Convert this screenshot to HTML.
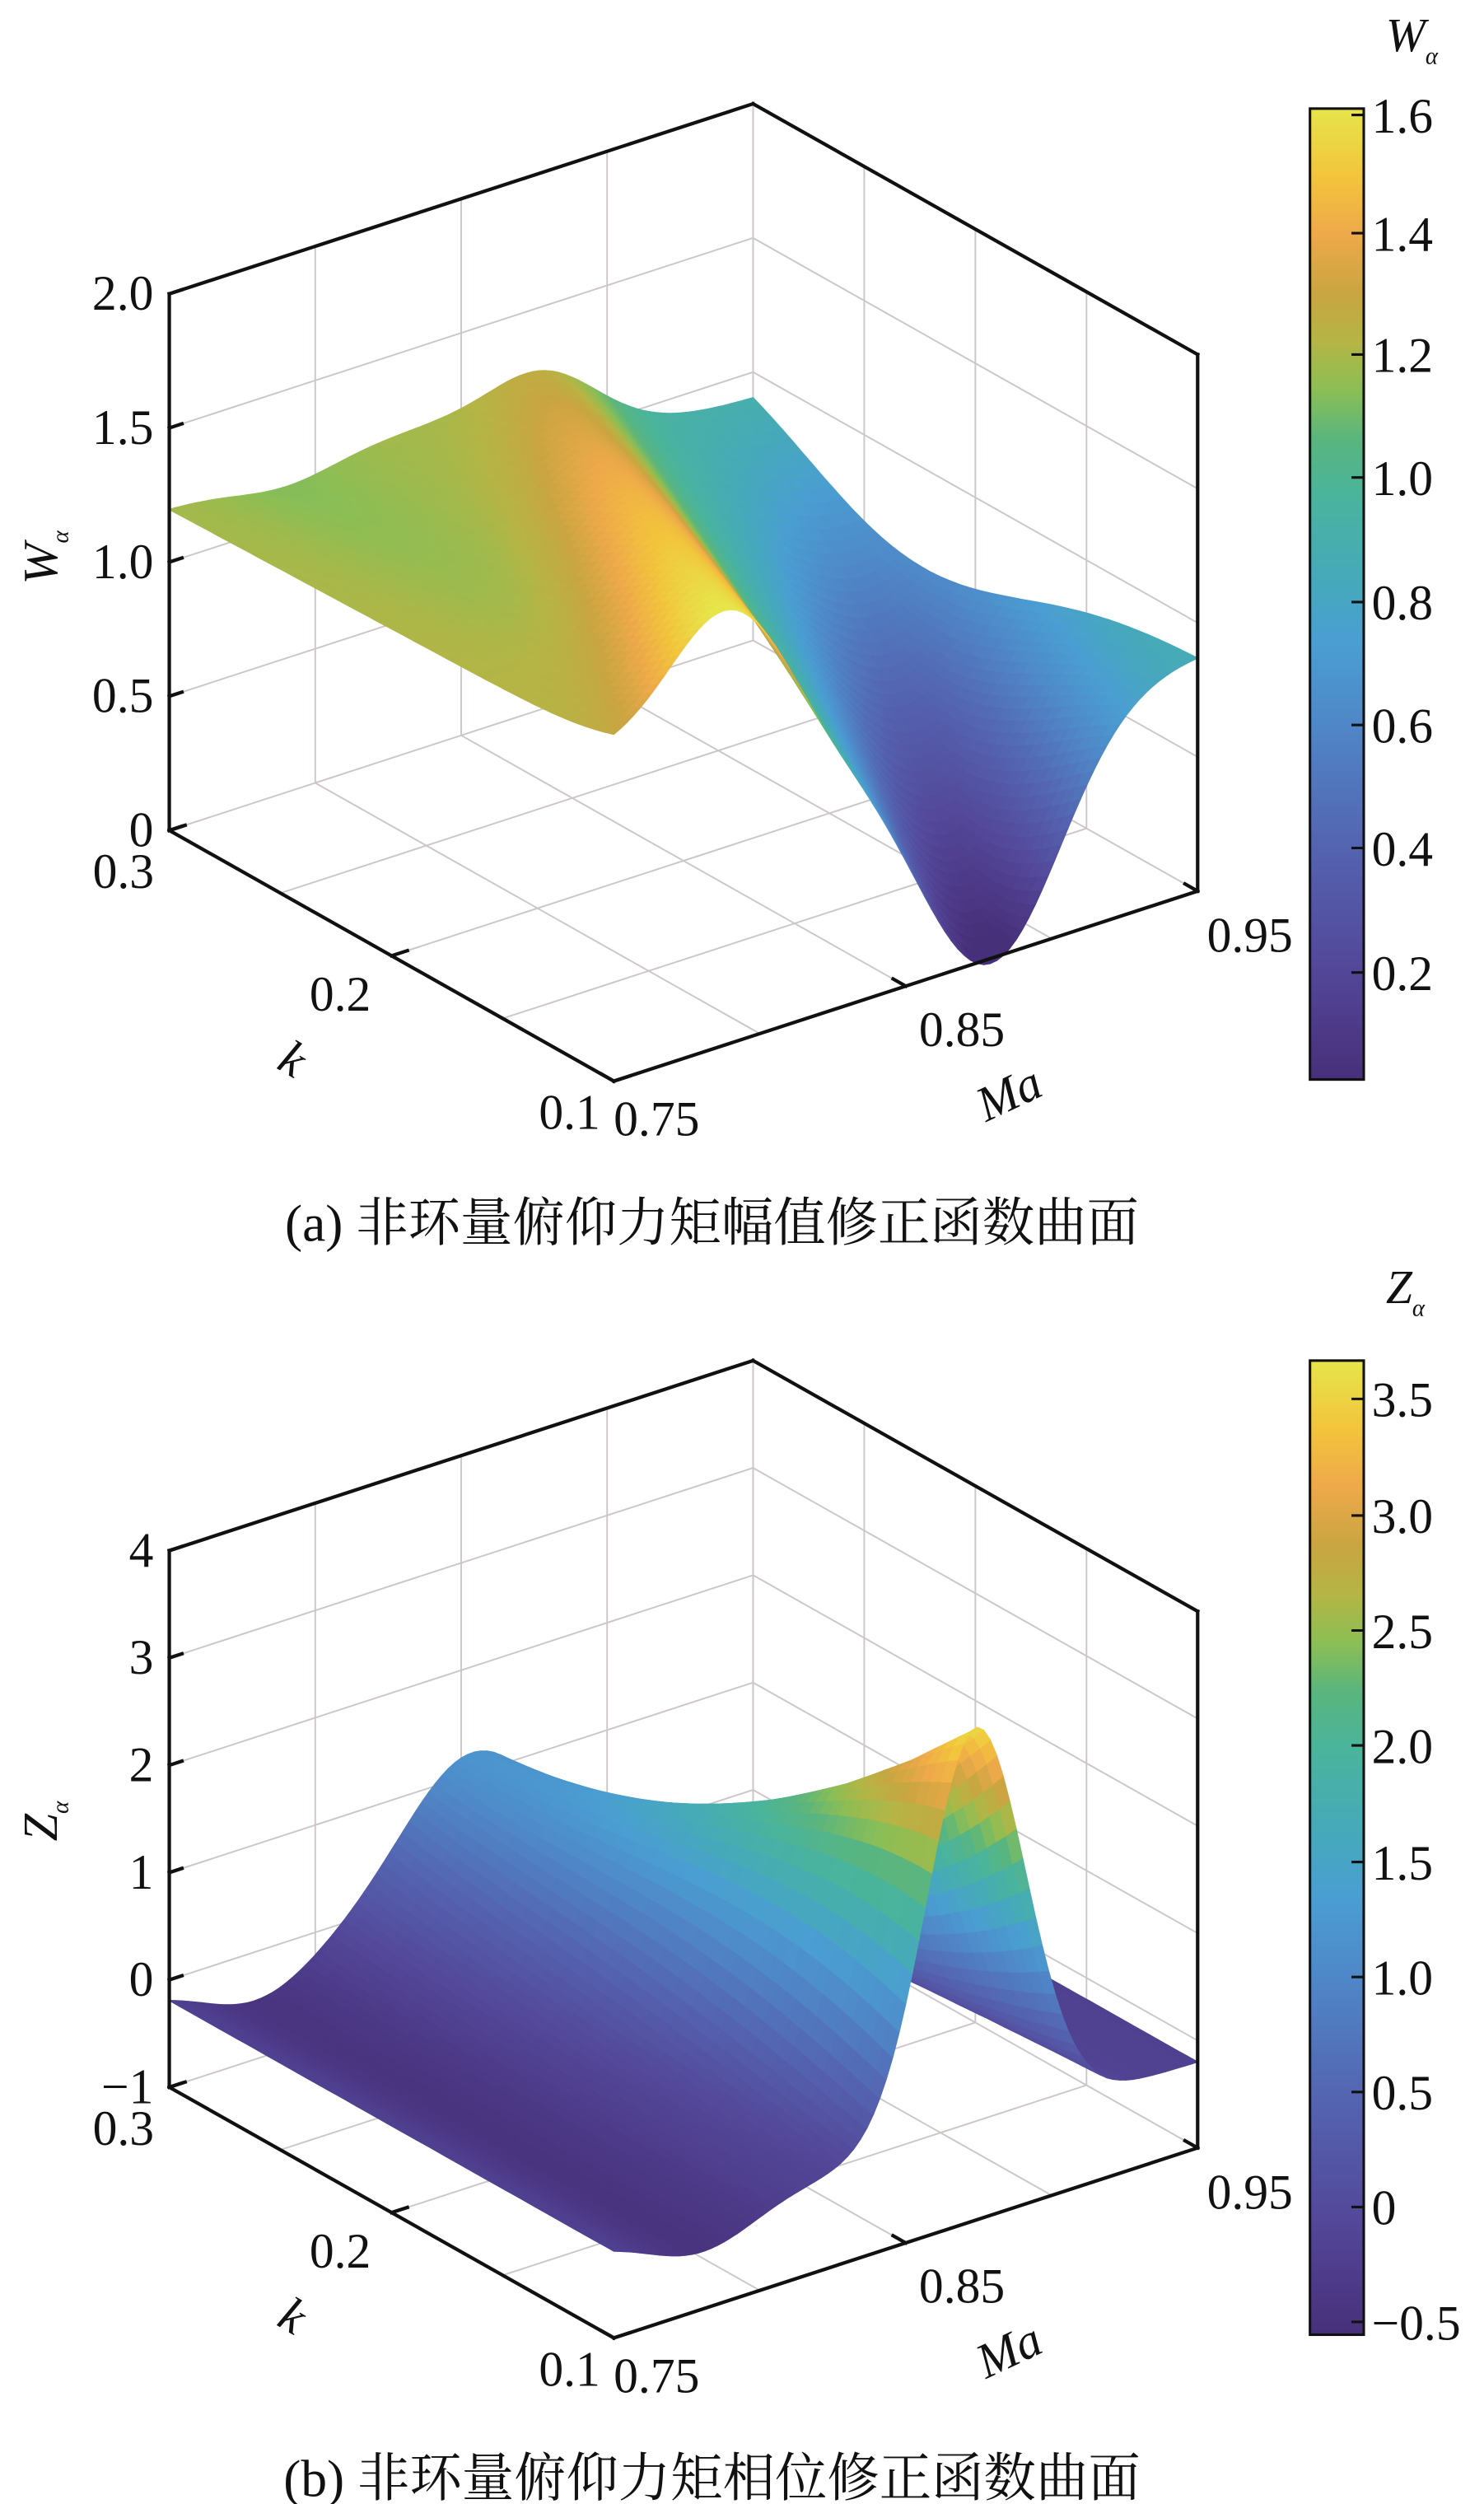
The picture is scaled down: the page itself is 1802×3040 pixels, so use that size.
<!DOCTYPE html>
<html><head><meta charset="utf-8">
<style>
html,body{margin:0;padding:0;background:#fff;}
svg{display:block;}
text{font-family:"Liberation Serif","Noto Serif CJK SC",serif;fill:#111;}
</style></head>
<body>
<svg id="s" xmlns="http://www.w3.org/2000/svg" width="1802" height="3040" viewBox="0 0 938 1568" preserveAspectRatio="none">
<defs>
<linearGradient id="cm" x1="0" y1="1" x2="0" y2="0">
<stop offset="0" stop-color="#47307a"/>
<stop offset="0.12" stop-color="#54489a"/>
<stop offset="0.25" stop-color="#5466b2"/>
<stop offset="0.37" stop-color="#4f88c8"/>
<stop offset="0.45" stop-color="#4a9ed2"/>
<stop offset="0.52" stop-color="#46aab8"/>
<stop offset="0.60" stop-color="#4ab49c"/>
<stop offset="0.66" stop-color="#5ab57e"/>
<stop offset="0.71" stop-color="#8cbe55"/>
<stop offset="0.76" stop-color="#b4b545"/>
<stop offset="0.81" stop-color="#c9a541"/>
<stop offset="0.87" stop-color="#eea94a"/>
<stop offset="0.93" stop-color="#f2c43c"/>
<stop offset="1" stop-color="#e6e54a"/>
</linearGradient>
</defs>
<g id="pa"></g>
<g id="pb"></g>
</svg>
<script>
var NS="http://www.w3.org/2000/svg";
var stops=[[0,[0x47,0x30,0x7a]],[0.12,[0x54,0x48,0x9a]],[0.25,[0x54,0x66,0xb2]],[0.37,[0x4f,0x88,0xc8]],[0.45,[0x4a,0x9e,0xd2]],[0.52,[0x46,0xaa,0xb8]],[0.60,[0x4a,0xb4,0x9c]],[0.66,[0x5a,0xb5,0x7e]],[0.71,[0x8c,0xbe,0x55]],[0.76,[0xb4,0xb5,0x45]],[0.81,[0xc9,0xa5,0x41]],[0.87,[0xee,0xa9,0x4a]],[0.93,[0xf2,0xc4,0x3c]],[1,[0xe6,0xe5,0x4a]]];
function cmap(t){t=Math.max(0,Math.min(1,t));for(var i=1;i<stops.length;i++){if(t<=stops[i][0]){var a=stops[i-1],b=stops[i],f=(t-a[0])/(b[0]-a[0]);var c=[0,1,2].map(function(k){return Math.round(a[1][k]+(b[1][k]-a[1][k])*f);});return "rgb("+c.join(",")+")";}}return "rgb(230,229,74)";}
function el(g,tag,attrs,txt){var e=document.createElementNS(NS,tag);for(var k in attrs)e.setAttribute(k,attrs[k]);if(txt!==undefined)e.textContent=txt;g.appendChild(e);return e;}
function P(u,v,w,oy){return [107+369*u+281*v, 520+oy-119*u+157*v-336*w];}
function S(x){return 1/(1+Math.exp(-x));}
function g(x,s){return Math.exp(-(x/s)*(x/s));}
function fa(u,v){var up=0.634-0.434*v,a=0.1+0.32*v,um=up+0.445,d=0.9*v,sr=0.11+0.03*v;
 return 1.2+0.04*v+a*g(u-up,sr)-(0.3+0.06*v)*S((u-up-0.12)/0.06)-d*g(u-um,0.17)-0.06*(1-v)*g(u-0.2,0.12);}
function fb(u,v){var ur=0.52+0.1*v,h=1.35+2.4*v*v,sg=0.17-0.05*v;
 return -0.1-0.35*g(u-0.15,0.13)-0.1*u+h*g(u-ur,sg);}
function panel(g0,oy,zmin,zmax,zt,zlab,f,vmin,vmax,cbTop,cbBot,cbt,cbTitle,cap){
 var gg=document.getElementById(g0);
 var grid="#cdc6c6";
 function line(a,b,st,sw){el(gg,"line",{x1:a[0],y1:a[1],x2:b[0],y2:b[1],stroke:st,"stroke-width":sw,"stroke-linecap":"square"});}
 var ws=zt.map(function(z){return (z-zmin)/(zmax-zmin);});
 [0.25,0.5,0.75,1].forEach(function(u){line(P(u,0,0,oy),P(u,0,1,oy),grid,1);});
 ws.forEach(function(w){line(P(0,0,w,oy),P(1,0,w,oy),grid,1);});
 [0,0.25,0.5,0.75].forEach(function(v){line(P(1,v,0,oy),P(1,v,1,oy),grid,1);});
 ws.forEach(function(w){line(P(1,0,w,oy),P(1,1,w,oy),grid,1);});
 [0.25,0.5,0.75].forEach(function(u){line(P(u,0,0,oy),P(u,1,0,oy),grid,1);});
 [0.25,0.5,0.75].forEach(function(v){line(P(0,v,0,oy),P(1,v,0,oy),grid,1);});
 var NU=90,NV=45,quads=[];
 for(var i=0;i<NU;i++)for(var j=0;j<NV;j++){
  var u0=i/NU,u1=(i+1)/NU,v0=j/NV,v1=(j+1)/NV;
  var z00=f(u0,v0),z10=f(u1,v0),z11=f(u1,v1),z01=f(u0,v1);
  var zc=(z00+z10+z11+z01)/4;
  var W=function(z){return (z-zmin)/(zmax-zmin);};
  var uc=(u0+u1)/2,vc=(v0+v1)/2;
  var near=1.732*(157*vc-119*uc)+194*W(zc);
  quads.push([near,[P(u0,v0,W(z00),oy),P(u1,v0,W(z10),oy),P(u1,v1,W(z11),oy),P(u0,v1,W(z01),oy)],cmap((zc-vmin)/(vmax-vmin))]);
 }
 quads.sort(function(a,b){return a[0]-b[0];});
 var sg=el(gg,"g",{});
 quads.forEach(function(q){var pts=q[1].map(function(p){return p[0].toFixed(1)+","+p[1].toFixed(1);}).join(" ");
  el(sg,"polygon",{points:pts,fill:q[2],stroke:q[2],"stroke-width":0.7,"stroke-linejoin":"round"});});
 var K="#111";
 line(P(0,0,0,oy),P(0,0,1,oy),K,2.2);
 line(P(0,0,1,oy),P(1,0,1,oy),K,2.2);
 line(P(1,0,1,oy),P(1,1,1,oy),K,2.2);
 line(P(1,1,0,oy),P(1,1,1,oy),K,2.2);
 line(P(0,0,0,oy),P(0,1,0,oy),K,2.2);
 line(P(0,1,0,oy),P(1,1,0,oy),K,2.2);
 ws.forEach(function(w){var p=P(0,0,w,oy);line(p,[p[0]+8,p[1]-2.6],K,2.2);});
 [0,0.5,1].forEach(function(u){var p=P(u,1,0,oy);line(p,[p[0]-8,p[1]-4.5],K,2.2);});
 [0,0.5,1].forEach(function(v){var p=P(0,v,0,oy);line(p,[p[0]+10,p[1]-3.2],K,2.2);});
 var fs=31;
 zt.forEach(function(z,k){var p=P(0,0,ws[k],oy);var s=(z<0?"\u2212"+(-z):String(z));if(zlab==="W"&&z!==0)s=z.toFixed(1);
  el(gg,"text",{x:97,y:p[1]+10,"font-size":fs,"text-anchor":"end"},s);});
 el(gg,"text",{x:78,y:556+oy,"font-size":fs,"text-anchor":"middle"},"0.3");
 el(gg,"text",{x:215,y:633+oy,"font-size":fs,"text-anchor":"middle"},"0.2");
 el(gg,"text",{x:360,y:707+oy,"font-size":fs,"text-anchor":"middle"},"0.1");
 el(gg,"text",{x:415,y:711+oy,"font-size":fs,"text-anchor":"middle"},"0.75");
 el(gg,"text",{x:608,y:655+oy,"font-size":fs,"text-anchor":"middle"},"0.85");
 el(gg,"text",{x:790,y:596+oy,"font-size":fs,"text-anchor":"middle"},"0.95");
 el(gg,"text",{x:0,y:0,"font-size":31,"font-style":"italic",transform:"translate(180,"+(672+oy)+") rotate(30)","text-anchor":"middle"},"k");
 el(gg,"text",{x:0,y:0,"font-size":31,"font-style":"italic",transform:"translate(642,"+(694+oy)+") rotate(-25)","text-anchor":"middle"},"Ma");
 var zl=el(gg,"text",{x:0,y:0,"font-size":31,"font-style":"italic",transform:"translate(36,"+(366+oy)+") rotate(-90)"},zlab);
 el(zl,"tspan",{"font-size":15,dy:7},"\u03b1");
 el(gg,"rect",{x:828,y:cbTop,width:34,height:cbBot-cbTop,fill:"url(#cm)",stroke:K,"stroke-width":1.6});
 cbt.forEach(function(t){line([855,t[0]],[862,t[0]],K,1.6);
  el(gg,"text",{x:867,y:t[0]+11,"font-size":fs},t[1]);});
 var ct=el(gg,"text",{x:876,y:cbTop-36,"font-size":30,"font-style":"italic"},cbTitle);
 el(ct,"tspan",{"font-size":15,dy:8},"\u03b1");
 el(gg,"text",{x:450,y:cap[1],"font-size":33,"text-anchor":"middle"},cap[0]);
}
panel("pa",0,0,2.0,[0,0.5,1.0,1.5,2.0],"W",fa,0.03,1.61,68,676,
 [[72,"1.6"],[146,"1.4"],[222,"1.2"],[299,"1.0"],[377,"0.8"],[454,"0.6"],[531,"0.4"],[609,"0.2"]],"W",
 ["(a) 非环量俯仰力矩幅值修正函数曲面",777]);
panel("pb",787,-1,4,[-1,0,1,2,3,4],"Z",fb,-0.555,3.666,852,1462,
 [[876,"3.5"],[949,"3.0"],[1021,"2.5"],[1093,"2.0"],[1166,"1.5"],[1238,"1.0"],[1310,"0.5"],[1382,"0"],[1454,"\u22120.5"]],"Z",
 ["(b) 非环量俯仰力矩相位修正函数曲面",1563]);
</script>
</body></html>
